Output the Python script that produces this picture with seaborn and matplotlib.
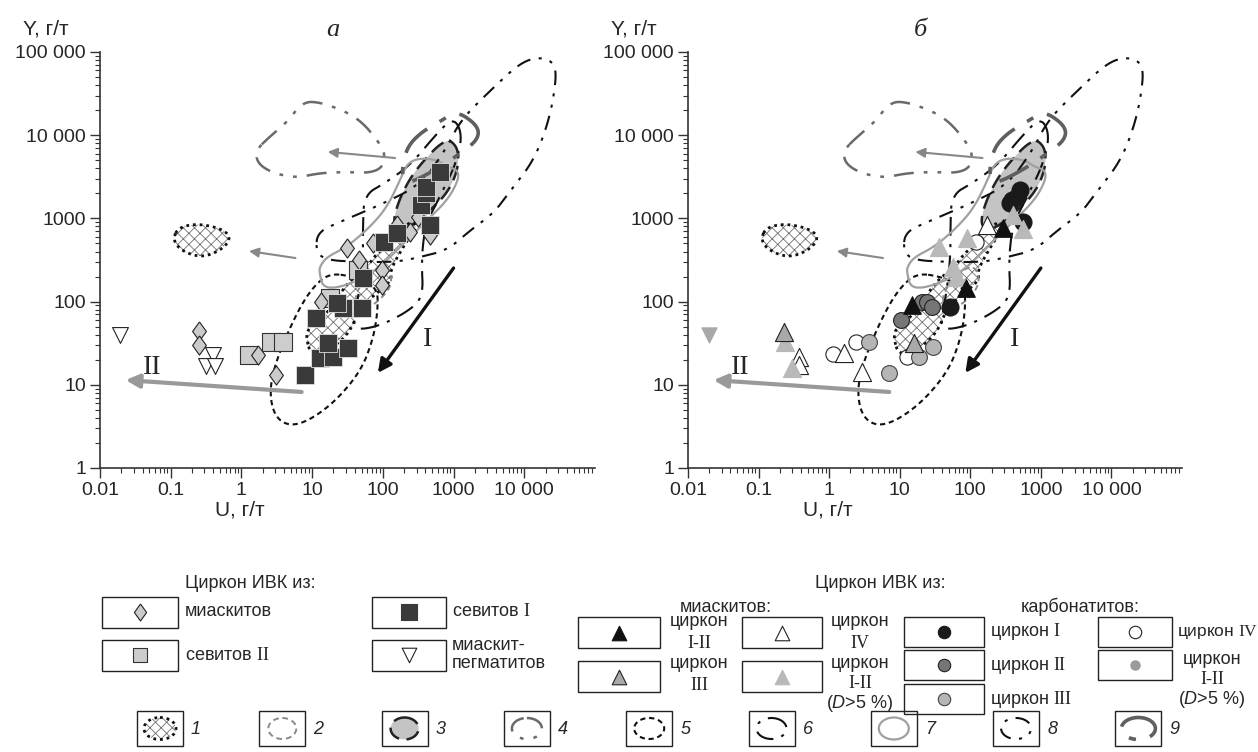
import numpy as np
import pandas as pd
import matplotlib
matplotlib.use("Agg")
from matplotlib import pyplot as plt
from matplotlib.patches import Rectangle, Ellipse
from matplotlib.ticker import FixedLocator, FixedFormatter, LogLocator, NullFormatter
import seaborn as sns

sns.set_style("ticks")
plt.rcParams['font.family'] = ['Liberation Sans', 'DejaVu Sans']
plt.rcParams['mathtext.fontset'] = 'custom'
plt.rcParams['mathtext.rm'] = 'Liberation Serif'
plt.rcParams['mathtext.it'] = 'Liberation Sans:italic'
plt.rcParams['hatch.linewidth'] = 0.6

# ---------------- data: panel a (U, Y in g/t) ----------------
miask_U = [0.25, 0.25, 1.7, 3.1, 13.5, 46, 97, 97, 31, 72, 158, 244, 317, 470]
miask_Y = [44, 30, 23, 13, 98, 316, 240, 158, 440, 505, 835, 687, 1040, 630]

sevit1_U = [8, 13, 20, 17, 32, 11.2, 27, 50.6, 22.3, 52, 104, 158, 470, 350, 412, 412, 653]
sevit1_Y = [13, 21, 21.5, 31.7, 27.6, 63, 84, 84, 96, 192, 520, 668, 835, 1450, 2020, 2380, 3610]

sevit2_U = [1.3, 2.6, 3.9, 17.7, 44]
sevit2_Y = [23, 33, 33, 110, 240]

pegm_U = [0.019, 0.39, 0.32, 0.42]
pegm_Y = [40, 23, 17, 17]

# ---------------- data: panel b ----------------
mi12_U = [15, 88, 288]
mi12_Y = [91, 146, 770]
mi3_U = [0.23, 15.8]
mi3_Y = [43, 31.7]
mi4_U = [0.37, 0.38, 1.64, 2.9, 170]
mi4_Y = [21.6, 17.3, 24, 14.2, 835]
mi_d5_U = [0.24, 0.30, 36, 56, 64, 91, 400, 555]
mi_d5_Y = [33, 16, 450, 260, 197, 580, 1100, 750]
pegm_b_U = [0.02]
pegm_b_Y = [40]

cb1_U = [52, 361, 455, 500, 555, 386]
cb1_Y = [85, 1530, 1800, 2200, 910, 1650]
cb2_U = [10.3, 20.8, 24.7, 29]
cb2_Y = [60, 98, 98, 86]
cb3_U = [3.7, 7.0, 18.9, 30]
cb3_Y = [32.6, 13.8, 21.6, 28.5]
cb4_U = [1.12, 2.4, 12.7, 122]
cb4_Y = [23.4, 32.6, 21.6, 522]

# ---------------- field outlines (log10 U, log10 Y) ----------------
f1a_lu = [-0.96, -0.89, -0.675, -0.42, -0.205, -0.16, -0.29, -0.53, -0.75, -0.92]
f1a_ly = [2.776, 2.885, 2.933, 2.909, 2.837, 2.740, 2.620, 2.536, 2.572, 2.668]

f1b_lu = [0.92, 0.99, 1.25, 1.53, 1.675, 1.92, 2.13, 2.10, 2.345, 2.49, 2.39, 2.145, 1.92, 1.775, 1.49, 1.29, 1.06, 0.93]
f1b_ly = [1.538, 1.358, 1.418, 1.623, 1.935, 2.103, 2.260, 2.380, 2.740, 2.897, 2.981, 2.740, 2.584, 2.416, 2.224, 1.935, 1.743, 1.659]

f2_lu = [1.99, 2.10, 2.13, 1.96, 1.746, 1.604, 1.632, 1.82]
f2_ly = [2.428, 2.38, 2.20, 2.019, 1.899, 1.959, 2.139, 2.32]

f3_lu = [2.957, 3.07, 3.06, 2.915, 2.63, 2.39, 2.20, 2.145, 2.245, 2.43, 2.715, 2.858]
f3_ly = [3.942, 3.822, 3.582, 3.305, 3.065, 2.897, 2.861, 2.981, 3.257, 3.546, 3.822, 3.918]

f4_lu = [0.208, 0.393, 0.635, 0.863, 1.105, 1.49, 1.718, 1.92, 2.031, 2.003, 1.82, 1.49, 1.105, 0.78, 0.436, 0.222]
f4_ly = [3.822, 3.978, 4.147, 4.399, 4.399, 4.279, 4.147, 3.942, 3.786, 3.618, 3.546, 3.558, 3.546, 3.486, 3.546, 3.666]

f5_lu = [1.25, 1.60, 1.92, 1.93, 1.86, 1.675, 1.25, 0.78, 0.49, 0.39, 0.49, 0.78, 1.01]
f5_ly = [2.344, 2.296, 2.175, 1.899, 1.538, 1.142, 0.733, 0.493, 0.577, 0.901, 1.298, 1.863, 2.175]

f6_lu = [3.0, 3.128, 3.028, 2.815, 2.60, 2.544, 2.573, 2.345, 1.92, 1.561, 1.647, 1.718, 1.718, 1.732, 2.031, 2.39, 2.744]
f6_ly = [4.219, 4.002, 3.642, 3.281, 2.921, 2.50, 2.055, 1.875, 1.695, 1.659, 2.019, 2.50, 2.861, 3.281, 3.425, 3.642, 4.002]

f7_lu = [1.105, 1.15, 1.35, 1.675, 1.96, 2.20, 2.63, 2.915, 3.07, 3.06, 2.915, 2.77, 2.53, 2.345, 2.245, 2.06, 1.82, 1.49, 1.205, 1.105]
f7_ly = [2.344, 2.175, 2.163, 2.260, 2.416, 2.620, 2.981, 3.221, 3.462, 3.582, 3.618, 3.702, 3.726, 3.666, 3.462, 3.137, 2.897, 2.656, 2.536, 2.416]

f8_lu = [1.05, 1.08, 1.39, 1.96, 2.53, 2.886, 3.10, 3.527, 3.954, 4.239, 4.425, 4.453, 4.353, 4.14, 3.812, 3.57, 3.242, 2.915, 2.53, 2.20, 1.675, 1.177]
f8_ly = [2.62, 2.837, 2.957, 3.161, 3.401, 3.822, 4.183, 4.543, 4.880, 4.94, 4.868, 4.663, 4.183, 3.702, 3.341, 3.065, 2.861, 2.62, 2.536, 2.476, 2.476, 2.50]

f9_lu = [3.10, 3.356, 3.34, 3.10, 2.815, 2.39, 2.288, 2.274, 2.345, 2.53, 2.77, 2.957]
f9_ly = [4.267, 4.099, 3.942, 3.786, 3.618, 3.425, 3.462, 3.618, 3.858, 4.026, 4.147, 4.243]

# arrows: (U_tail, Y_tail, U_head, Y_head)
arrow_I = (1000, 253, 85, 13.9)
arrow_II = (7.1, 8.2, 0.023, 11.4)
arrow_up = (149, 5320, 16.6, 6300)
arrow_low = (5.8, 334, 1.28, 405)

x_ticks = [0.01, 0.1, 1, 10, 100, 1000, 10000]
x_labels = ['0.01', '0.1', '1', '10', '100', '1000', '10 000']
y_ticks = [1, 10, 100, 1000, 10000, 100000]
y_labels = ['1', '10', '100', '1000', '10 000', '100 000']

DIAMOND = [(0, 1), (0.72, 0), (0, -1), (-0.72, 0), (0, 1)]
SANS, SERIF = 'Liberation Sans', 'Liberation Serif'
FS = 13


def smooth(lu, ly, n=3):
    pts = np.column_stack([lu, ly]).astype(float)
    for _ in range(n):
        nxt = np.roll(pts, -1, axis=0)
        q = 0.75 * pts + 0.25 * nxt
        r = 0.25 * pts + 0.75 * nxt
        new = np.empty((2 * len(pts), 2))
        new[0::2] = q
        new[1::2] = r
        pts = new
    pts = np.vstack([pts, pts[:1]])
    return 10 ** pts[:, 0], 10 ** pts[:, 1]


def draw_fields(ax):
    x, y = smooth(f3_lu, f3_ly)
    ax.fill(x, y, color='#c4c4c4', lw=0, zorder=1)
    ax.plot(x, y, color='#222', lw=1.8, ls=(0, (6, 3)), zorder=3)
    for lu, ly in [(f1a_lu, f1a_ly), (f1b_lu, f1b_ly)]:
        x, y = smooth(lu, ly)
        ax.fill(x, y, facecolor='none', edgecolor='#707070', hatch='xxx', lw=0, zorder=2)
        ax.plot(x, y, color='#111', lw=2.0, ls=(0, (1, 1.4)), zorder=3)
    x, y = smooth(f2_lu, f2_ly)
    ax.plot(x, y, color='#8a8a8a', lw=1.4, ls=(0, (3, 2)), zorder=3)
    x, y = smooth(f4_lu, f4_ly)
    ax.plot(x, y, color='#6a6a6a', lw=1.8, ls=(0, (8, 4, 1.5, 4, 1.5, 4)), zorder=3)
    x, y = smooth(f5_lu, f5_ly)
    ax.plot(x, y, color='#111', lw=1.5, ls=(0, (2.5, 1.8)), zorder=3)
    x, y = smooth(f6_lu, f6_ly)
    ax.plot(x, y, color='#111', lw=1.5, ls=(0, (9, 4, 1.5, 4)), zorder=3)
    x, y = smooth(f7_lu, f7_ly)
    ax.plot(x, y, color='#a0a0a0', lw=1.6, zorder=3)
    x, y = smooth(f8_lu, f8_ly)
    ax.plot(x, y, color='#111', lw=1.5, ls=(0, (7, 4, 1.5, 4, 1.5, 4)), zorder=3)
    x, y = smooth(f9_lu, f9_ly)
    ax.plot(x, y, color='#5f5f5f', lw=2.6, ls=(0, (9, 4, 2, 4)), zorder=3)

    def arrow(a, color, lw, ms):
        ax.annotate('', xy=(a[2], a[3]), xytext=(a[0], a[1]), zorder=4,
                    arrowprops=dict(arrowstyle='-|>', color=color, lw=lw,
                                    mutation_scale=ms, shrinkA=0, shrinkB=0))
    arrow(arrow_I, '#111', 2.4, 20)
    arrow(arrow_II, '#999', 3.0, 20)
    arrow(arrow_up, '#888', 1.5, 14)
    arrow(arrow_low, '#888', 1.5, 14)
    ax.text(430, 35, 'I', family=SERIF, fontsize=20, ha='center', va='center')
    ax.text(0.055, 16, 'II', family=SERIF, fontsize=20, ha='center', va='center')


def style_axis(ax, letter):
    ax.set_xscale('log')
    ax.set_yscale('log')
    ax.set_xlim(0.01, 1e5)
    ax.set_ylim(1, 1e5)
    ax.set_xlabel('')
    ax.set_ylabel('')
    ax.xaxis.set_major_locator(FixedLocator(x_ticks))
    ax.xaxis.set_major_formatter(FixedFormatter(x_labels))
    ax.yaxis.set_major_locator(FixedLocator(y_ticks))
    ax.yaxis.set_major_formatter(FixedFormatter(y_labels))
    ax.xaxis.set_minor_locator(LogLocator(base=10, subs=np.arange(2, 10), numticks=20))
    ax.yaxis.set_minor_locator(LogLocator(base=10, subs=np.arange(2, 10), numticks=20))
    ax.xaxis.set_minor_formatter(NullFormatter())
    ax.yaxis.set_minor_formatter(NullFormatter())
    ax.tick_params(which='major', direction='out', length=7, width=1, labelsize=14, color='#333', pad=3)
    ax.tick_params(which='minor', direction='out', length=3.5, width=0.8, color='#333')
    for s in ['top', 'right']:
        ax.spines[s].set_visible(False)
    for s in ['left', 'bottom']:
        ax.spines[s].set_color('#333')
        ax.spines[s].set_linewidth(1.2)
    ax.set_facecolor('none')
    ax.text(-0.11, 1.055, 'Y, г/т', transform=ax.transAxes, fontsize=15, ha='center', va='center')
    ax.text(0.283, -0.1, 'U, г/т', transform=ax.transAxes, fontsize=15, ha='center', va='center')
    ax.text(0.47, 1.053, letter, transform=ax.transAxes, fontsize=19, ha='center', va='center',
            family=SERIF, style='italic')


def pts(ax, U, Y, marker, s, face, edge, lw=0.8):
    df = pd.DataFrame({'U': U, 'Y': Y})
    sns.scatterplot(data=df, x='U', y='Y', ax=ax, marker=marker, s=s, color=face,
                    edgecolor=edge, linewidth=lw, zorder=5, legend=False)


fig = plt.figure(figsize=(12.58, 7.52), dpi=100)
W, H = 1258, 752
ax_a = fig.add_axes([100 / W, 1 - 468 / H, 495 / W, 416 / H])
ax_b = fig.add_axes([688 / W, 1 - 468 / H, 494 / W, 416 / H])

for ax in (ax_a, ax_b):
    draw_fields(ax)

pts(ax_a, pegm_U, pegm_Y, 'v', 130, 'white', '#222')
pts(ax_a, sevit2_U, sevit2_Y, 's', 180, '#cdcdcd', '#333')
pts(ax_a, miask_U, miask_Y, DIAMOND, 190, '#cbcbcb', '#222')
pts(ax_a, sevit1_U, sevit1_Y, 's', 175, '#3a3a3a', '#e0e0e0', 0.6)

pts(ax_b, pegm_b_U, pegm_b_Y, 'v', 120, '#a8a8a8', '#a8a8a8')
pts(ax_b, cb4_U, cb4_Y, 'o', 120, 'white', '#222')
pts(ax_b, cb3_U, cb3_Y, 'o', 130, '#b5b5b5', '#444')
pts(ax_b, cb2_U, cb2_Y, 'o', 130, '#767676', '#222')
pts(ax_b, cb1_U, cb1_Y, 'o', 150, '#1a1a1a', '#1a1a1a')
pts(ax_b, mi4_U, mi4_Y, '^', 170, 'white', '#222')
pts(ax_b, mi_d5_U, mi_d5_Y, '^', 170, '#b9b9b9', '#b9b9b9')
pts(ax_b, mi3_U, mi3_Y, '^', 170, '#a9a9a9', '#222')
pts(ax_b, mi12_U, mi12_Y, '^', 160, '#111', '#111')

style_axis(ax_a, 'а')
style_axis(ax_b, 'б')

# ---------------- legends (figure pixel space) ----------------
lg = fig.add_axes([0, 0, 1, 1], zorder=-1)
lg.set_xlim(0, W)
lg.set_ylim(H, 0)
lg.axis('off')


def box(x, y, w, h):
    lg.add_patch(Rectangle((x, y), w, h, fill=False, ec='#222', lw=1.0))


def sym(x, y, marker, s, face, edge, lw=0.8):
    lg.scatter([x], [y], marker=marker, s=s, c=[face], edgecolors=[edge], linewidths=lw, zorder=5)


def txt(x, y, t, ha='left', fam=SANS, fs=FS):
    lg.text(x, y, t, ha=ha, va='center', fontsize=fs, family=fam)


def lines(x, y0, items, ha='center', dy=21):
    for i, (t, fam) in enumerate(items):
        txt(x, y0 + i * dy, t, ha=ha, fam=fam)


txt(250, 583, 'Циркон ИВК из:', ha='center')
box(102, 597, 76, 31); sym(140, 612, DIAMOND, 150, '#cbcbcb', '#222')
txt(185, 612, 'миаскитов')
box(372, 597, 74, 31); sym(409, 612, 's', 130, '#3a3a3a', '#3a3a3a')
txt(452, 612, r'севитов $\mathrm{I}$')
box(102, 640, 76, 31); sym(140, 655, 's', 110, '#cdcdcd', '#333')
txt(185, 655, r'севитов $\mathrm{II}$')
box(372, 640, 74, 31); sym(409, 655, 'v', 110, 'white', '#222')
lines(452, 646, [('миаскит-', SANS), ('пегматитов', SANS)], ha='left', dy=18)

txt(880, 583, 'Циркон ИВК из:', ha='center')
txt(726, 607, 'миаскитов:', ha='center')
txt(1080, 607, 'карбонатитов:', ha='center')

box(578, 617, 82, 31); sym(619, 633, '^', 110, '#111', '#111')
lines(699, 622, [('циркон', SANS), ('I-II', SERIF)])
box(742, 617, 80, 31); sym(782, 633, '^', 110, 'white', '#222')
lines(860, 622, [('циркон', SANS), ('IV', SERIF)])
box(578, 661, 82, 31); sym(619, 677, '^', 110, '#a9a9a9', '#222')
lines(699, 664, [('циркон', SANS), ('III', SERIF)])
box(742, 661, 80, 31); sym(782, 677, '^', 110, '#b9b9b9', '#b9b9b9')
lines(860, 664, [('циркон', SANS), ('I-II', SERIF), (r'($D$>5 %)', SANS)], dy=20)

box(904, 617, 80, 30); sym(944, 632, 'o', 80, '#1a1a1a', '#1a1a1a')
txt(990, 632, r'циркон $\mathrm{I}$')
box(904, 650, 80, 30); sym(944, 665, 'o', 80, '#767676', '#222')
txt(990, 665, r'циркон $\mathrm{II}$')
box(904, 684, 80, 30); sym(944, 699, 'o', 80, '#b5b5b5', '#444')
txt(990, 699, r'циркон $\mathrm{III}$')
box(1098, 617, 74, 30); sym(1135, 632, 'o', 80, 'white', '#222')
txt(1177, 632, r'циркон $\mathrm{IV}$', fs=12.5)
box(1098, 650, 74, 30); sym(1135, 665, 'o', 45, '#9a9a9a', '#9a9a9a')
lines(1212, 660, [('циркон', SANS), ('I-II', SERIF), (r'($D$>5 %)', SANS)], dy=20)

# numbered field legend
for k in range(9):
    x0 = 137 + 122.3 * k
    box(x0, 711, 46, 35)
    cx, cy = x0 + 23, 728.5
    lg.text(x0 + 54, 729, str(k + 1), va='center', fontsize=FS, style='italic')
    if k == 0:
        lg.add_patch(Ellipse((cx, cy), 32, 22, facecolor='none', edgecolor='#707070', hatch='xxx', lw=0))
        lg.add_patch(Ellipse((cx, cy), 32, 22, fill=False, edgecolor='#111', lw=2.0, ls=(0, (1, 1.4))))
    elif k == 1:
        lg.add_patch(Ellipse((cx, cy), 28, 21, fill=False, edgecolor='#8a8a8a', lw=1.4, ls=(0, (3, 2))))
    elif k == 2:
        lg.add_patch(Ellipse((cx, cy), 28, 22, facecolor='#c4c4c4', edgecolor='#222', lw=1.8, ls=(0, (6, 3))))
    elif k == 3:
        lg.add_patch(Ellipse((cx, cy), 30, 21, fill=False, edgecolor='#6a6a6a', lw=1.8, ls=(0, (8, 4, 1.5, 4, 1.5, 4))))
    elif k == 4:
        lg.add_patch(Ellipse((cx, cy), 30, 21, fill=False, edgecolor='#111', lw=1.5, ls=(0, (2.5, 1.8))))
    elif k == 5:
        lg.add_patch(Ellipse((cx, cy), 30, 21, fill=False, edgecolor='#111', lw=1.5, ls=(0, (9, 4, 1.5, 4))))
    elif k == 6:
        lg.add_patch(Ellipse((cx, cy), 30, 22, fill=False, edgecolor='#a0a0a0', lw=1.6))
    elif k == 7:
        lg.add_patch(Ellipse((cx, cy), 30, 21, fill=False, edgecolor='#111', lw=1.5, ls=(0, (7, 4, 1.5, 4, 1.5, 4))))
    else:
        lg.add_patch(Ellipse((cx, cy), 34, 22, fill=False, edgecolor='#5f5f5f', lw=2.6, ls=(0, (9, 4, 2, 4))))

fig.savefig('out.png', dpi=100)
